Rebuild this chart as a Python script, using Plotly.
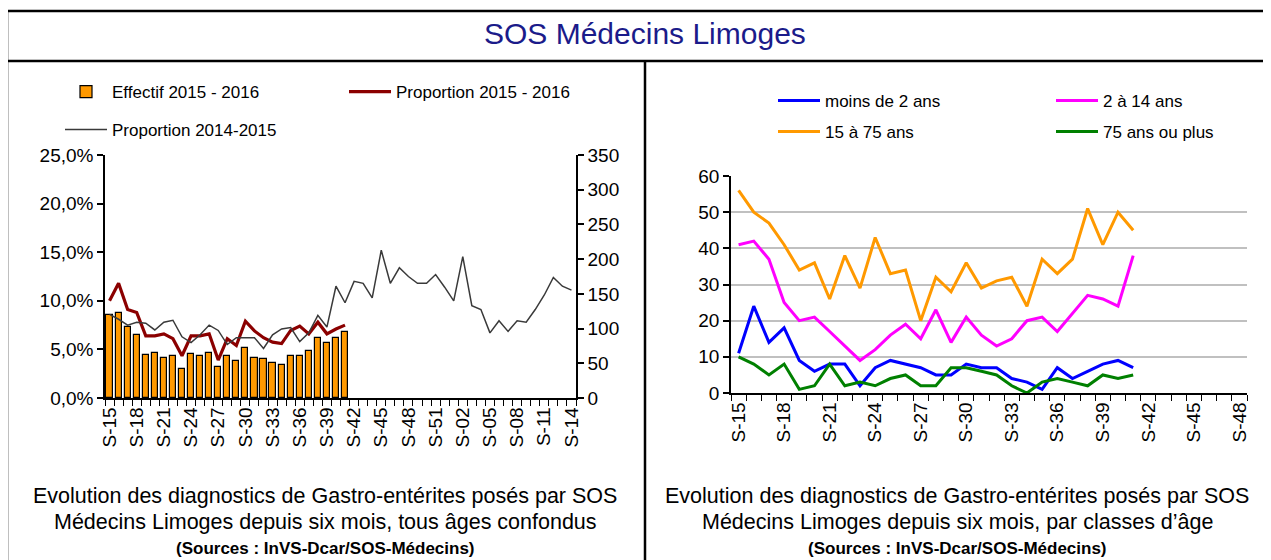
import plotly.graph_objects as go

# ---------------- data ----------------
weeks_left = ["S-%02d" % w for w in list(range(15, 53)) + list(range(1, 15))]
weeks_right = ["S-%02d" % w for w in range(15, 49)]

effectif_2015_2016 = [119, 123, 102, 91, 62, 65, 58, 60, 42, 63, 60, 65, 44, 60,
                      54, 72, 58, 56, 51, 47, 60, 60, 68, 86, 79, 86, 95]
proportion_2015_2016 = [10.0, 11.8, 9.1, 8.8, 6.4, 6.4, 6.6, 6.1, 4.35, 6.4, 6.4, 6.6,
                        3.9, 6.1, 5.4, 7.9, 6.9, 6.2, 5.75, 5.6, 6.95, 7.4, 6.6, 7.8,
                        6.6, 7.1, 7.5]
proportion_2014_2015 = [8.6, 8.1, 7.5, 7.8, 7.7, 7.0, 7.8, 8.0, 6.3, 5.7,
                        6.5, 7.5, 6.95, 5.5, 6.2, 6.2, 6.2, 5.1, 6.5, 7.1,
                        7.25, 5.8, 6.7, 8.5, 7.3, 11.5, 9.8, 12.0, 11.8, 10.3,
                        15.2, 11.8, 13.4, 12.5, 11.8, 11.8, 12.7, 11.4, 10.0, 14.55,
                        9.5, 9.1, 6.7, 7.95, 6.85, 7.95, 7.8, 9.1, 10.6, 12.4,
                        11.5, 11.1]

moins_de_2_ans = [11, 24, 14, 18, 9, 6, 8, 8, 2, 7, 9, 8, 7, 5, 5, 8, 7, 7, 4, 3,
                  1, 7, 4, 6, 8, 9, 7]
de_2_a_14_ans = [41, 42, 37, 25, 20, 21, 17, 13, 9, 12, 16, 19, 15, 23, 14, 21, 16,
                 13, 15, 20, 21, 17, 22, 27, 26, 24, 38]
de_15_a_75_ans = [56, 50, 47, 41, 34, 36, 26, 38, 29, 43, 33, 34, 20, 32, 28, 36, 29,
                  31, 32, 24, 37, 33, 37, 51, 41, 50, 45]
plus_75_ans = [10, 8, 5, 8, 1, 2, 8, 2, 3, 2, 4, 5, 2, 2, 7, 7, 6, 5, 2, 0, 3, 4, 3,
               2, 5, 4, 5]

# ---------------- styles ----------------
OFF = 8                       # page body margin
W, H = 1271 - OFF, 560 - OFF  # figure size
FONT = "Liberation Sans, Arial, sans-serif"
TXT = "#000000"

def px(x):
    return (x - OFF) / W

def py(y):
    return 1 - (y - OFF) / H

xl = list(range(len(weeks_left)))
xr = list(range(len(weeks_right)))

fig = go.Figure()

# left chart: bars on y (right side), lines on y2 (left side, overlaying -> on top)
fig.add_trace(go.Bar(
    x=xl[:len(effectif_2015_2016)], y=effectif_2015_2016, name="Effectif 2015 - 2016",
    marker=dict(color="#FF9900", line=dict(color="black", width=1.2)),
    width=0.68, xaxis="x", yaxis="y", legend="legend"))
fig.add_trace(go.Scatter(
    x=xl[:len(proportion_2015_2016)], y=proportion_2015_2016, name="Proportion 2015 - 2016",
    mode="lines", line=dict(color="#8B0000", width=3.2),
    xaxis="x", yaxis="y2", legend="legend"))
fig.add_trace(go.Scatter(
    x=xl, y=proportion_2014_2015, name="Proportion 2014-2015",
    mode="lines", line=dict(color="#3A3A3A", width=1.5),
    xaxis="x", yaxis="y2", legend="legend2"))

# right chart
for name, vals, col, lg in [
    ("moins de 2 ans", moins_de_2_ans, "#0000FF", "legend3"),
    ("2 à 14 ans", de_2_a_14_ans, "#FF00FF", "legend3"),
    ("15 à 75 ans", de_15_a_75_ans, "#FF9900", "legend4"),
    ("75 ans ou plus", plus_75_ans, "#008000", "legend4"),
]:
    fig.add_trace(go.Scatter(
        x=xr[:len(vals)], y=vals, name=name, mode="lines",
        line=dict(color=col, width=3), xaxis="x2", yaxis="y3", legend=lg))

tick_font = dict(family=FONT, size=19, color=TXT)
axis_common = dict(showline=True, linecolor="black", linewidth=1.5,
                   tickfont=tick_font, zeroline=False, fixedrange=True)

left_dom_x = [px(105), px(576)]
left_dom_y = [py(398), py(155)]
right_dom_x = [px(731), px(1247)]
right_dom_y = [py(393), py(176)]

leg_font = dict(family=FONT, size=17, color=TXT)

fig.update_layout(
    width=W, height=H,
    margin=dict(l=0, r=0, t=0, b=0, autoexpand=False),
    paper_bgcolor="white", plot_bgcolor="white",
    font=dict(family=FONT, color=TXT),
    separators=", ",
    bargap=0,
    xaxis=dict(domain=left_dom_x, anchor="y", range=[-0.5, len(weeks_left) - 0.5],
               tickmode="array", tickvals=xl[::3], ticktext=weeks_left[::3],
               tickangle=-90, ticks="", showgrid=False,
               minor=dict(ticks="outside", tickmode="array",
                          tickvals=[i - 0.5 for i in range(len(weeks_left) + 1)],
                          ticklen=6, tickcolor="black", tickwidth=1.2, showgrid=False),
               **axis_common),
    yaxis=dict(domain=left_dom_y, anchor="x", side="right", range=[0, 350], dtick=50,
               ticks="outside", ticklen=6, tickcolor="black", tickwidth=1.5,
               showgrid=False, **axis_common),
    yaxis2=dict(overlaying="y", anchor="x", side="left", range=[0, 25], dtick=5,
                tickformat=".1f", ticksuffix="%",
                ticks="outside", ticklen=6, tickcolor="black", tickwidth=1.5,
                showgrid=False, **axis_common),
    # inner half of the crossing tick marks of the right-hand axis
    yaxis4=dict(overlaying="y", anchor="x", side="right", range=[0, 350], dtick=50,
                ticks="inside", ticklen=6, tickcolor="black", tickwidth=1.5,
                showticklabels=False, showgrid=False, showline=True,
                linecolor="black", linewidth=1.5, zeroline=False, fixedrange=True),
    xaxis2=dict(domain=right_dom_x, anchor="y3", range=[-0.5, len(weeks_right) - 0.5],
                tickmode="array", tickvals=xr[::3], ticktext=weeks_right[::3],
                tickangle=-90, ticks="", showgrid=False,
                minor=dict(ticks="outside", tickmode="array",
                           tickvals=[i - 0.5 for i in range(len(weeks_right) + 1)],
                           ticklen=6, tickcolor="black", tickwidth=1.2, showgrid=False),
                **axis_common),
    yaxis3=dict(domain=right_dom_y, anchor="x2", range=[0, 60], dtick=10,
                ticks="outside", ticklen=6, tickcolor="black", tickwidth=1.5,
                showgrid=True, gridcolor="#C0C0C0", gridwidth=1.5, **axis_common),
    legend=dict(orientation="h", x=px(60), xanchor="left", y=py(92), yanchor="middle",
                entrywidth=227, entrywidthmode="pixels", traceorder="normal",
                itemwidth=42, font=leg_font, bgcolor="rgba(0,0,0,0)"),
    legend2=dict(orientation="h", x=px(60), xanchor="left", y=py(130), yanchor="middle",
                 itemwidth=42, font=leg_font, bgcolor="rgba(0,0,0,0)"),
    legend3=dict(orientation="h", x=px(773), xanchor="left", y=py(101), yanchor="middle",
                 entrywidth=221, entrywidthmode="pixels", traceorder="normal",
                 itemwidth=42, font=leg_font, bgcolor="rgba(0,0,0,0)"),
    legend4=dict(orientation="h", x=px(773), xanchor="left", y=py(132), yanchor="middle",
                 entrywidth=221, entrywidthmode="pixels", traceorder="normal",
                 itemwidth=42, font=leg_font, bgcolor="rgba(0,0,0,0)"),
)

# frame
shapes = [
    dict(type="rect", xref="paper", yref="paper", x0=px(7), x1=px(1267), y0=-0.05, y1=py(11),
         line=dict(color="black", width=2.5)),
    dict(type="line", xref="paper", yref="paper", x0=px(7), x1=px(1267), y0=py(61), y1=py(61),
         line=dict(color="black", width=2.5)),
    dict(type="line", xref="paper", yref="paper", x0=px(645), x1=px(645), y0=-0.05, y1=py(61),
         line=dict(color="black", width=2.5)),
]
fig.update_layout(shapes=shapes)

ann = [
    dict(text="SOS Médecins Limoges", x=px(645), y=py(34), xref="paper", yref="paper",
         showarrow=False, font=dict(family=FONT, size=30, color="#1B1B8A"),
         xanchor="center", yanchor="middle"),
]
for cx, line2 in [(325, "Médecins Limoges depuis six mois, tous âges confondus"),
                  (957, "Médecins Limoges depuis six mois, par classes d’âge")]:
    ann.append(dict(text="Evolution des diagnostics de Gastro-entérites posés par SOS",
                    x=px(cx), y=py(496), xref="paper", yref="paper", showarrow=False,
                    font=dict(family=FONT, size=21.5, color=TXT),
                    xanchor="center", yanchor="middle"))
    ann.append(dict(text=line2, x=px(cx), y=py(522), xref="paper", yref="paper",
                    showarrow=False, font=dict(family=FONT, size=21.5, color=TXT),
                    xanchor="center", yanchor="middle"))
    ann.append(dict(text="<b>(Sources : InVS-Dcar/SOS-Médecins)</b>", x=px(cx), y=py(548),
                    xref="paper", yref="paper", showarrow=False,
                    font=dict(family=FONT, size=17, color=TXT),
                    xanchor="center", yanchor="middle"))
fig.update_layout(annotations=ann)

fig.write_html("out.html")
